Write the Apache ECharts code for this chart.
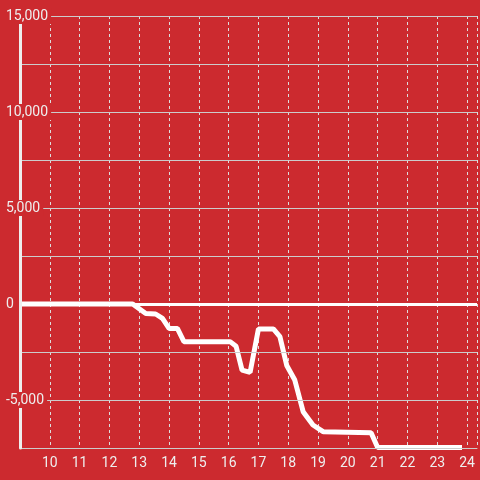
<!DOCTYPE html>
<html>
<head>
<meta charset="utf-8">
<script src="https://cdn.jsdelivr.net/npm/echarts@6/dist/echarts.min.js"></script>
<style>html,body{margin:0;padding:0;background:#cc2a2f;}#c{width:480px;height:480px;}</style>
</head>
<body>
<div id="c"></div>
<script>
var hours  = [9, 12.78, 13.22, 13.55, 13.78, 14.0, 14.28, 14.5, 16.05, 16.25, 16.45, 16.72, 17.0, 17.5, 17.72, 17.95, 18.22, 18.5, 18.83, 19.17, 20.78, 21.0, 23.83];
var values = [0, 0, -500, -520, -750, -1270, -1270, -1960, -1960, -2200, -3440, -3560, -1300, -1300, -1700, -3200, -3960, -5610, -6300, -6650, -6700, -7480, -7480];
var yTicksLabeled = [15000, 10000, 5000, 0, -5000];

var pts = hours.map(function (h, i) { return [h, values[i]]; });
var font = 'Roboto';
var chart = echarts.init(document.getElementById('c'), null, {renderer: 'canvas'});
chart.setOption({
  backgroundColor: '#cc2a2f',
  animation: false,
  grid: {left: 20, right: 0, top: 16, bottom: 32, containLabel: false},
  xAxis: {
    type: 'value', min: 9, max: 24.3333, interval: 1,
    axisLine: {show: true, onZero: false, lineStyle: {color: '#cccccc', width: 1}},
    axisTick: {show: false},
    axisLabel: {color: '#eeeeee', fontSize: 14, fontFamily: font, margin: 8, showMinLabel: false,
      formatter: function (v) { return (v >= 10 && v <= 24) ? String(v) : ''; }},
    splitLine: {show: true, lineStyle: {color: '#dddddd', type: [3, 3], width: 1}}
  },
  yAxis: {
    type: 'value', min: -7500, max: 15000, interval: 2500,
    axisLine: {show: true, onZero: false, lineStyle: {color: '#eeeeee', width: 3}},
    axisTick: {show: false},
    axisLabel: {
      inside: true, margin: -14, color: '#eeeeee', fontSize: 14, fontFamily: font,
      backgroundColor: '#cc2a2f', padding: [1, 3, 1, 0],
      formatter: function (v) {
        return yTicksLabeled.indexOf(v) >= 0 ? v.toLocaleString('en-US') : '';
      }
    },
    splitLine: {show: true, lineStyle: {color: '#cccccc', width: 1}},
    z: 5
  },
  series: [{
    type: 'line', data: pts, showSymbol: false, symbol: 'none',
    lineStyle: {color: '#ffffff', width: 5}, z: 3,
    markLine: {
      silent: true, symbol: ['none', 'none'], label: {show: false},
      lineStyle: {color: '#ffffff', width: 3, type: 'solid'},
      data: [{yAxis: 0}]
    }
  }]
});
</script>
</body>
</html>
